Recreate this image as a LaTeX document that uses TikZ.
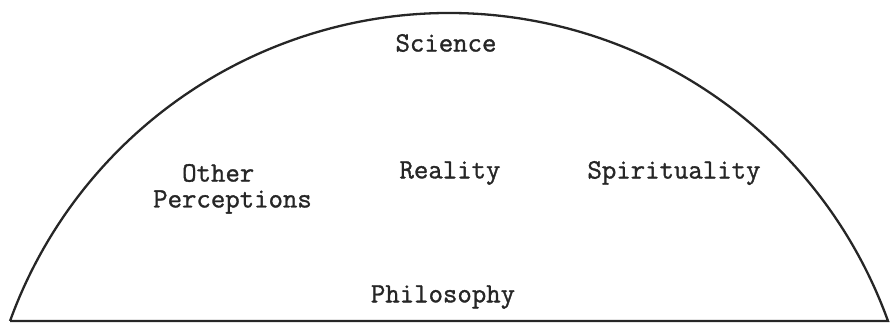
\documentclass[tikz,border=0pt]{standalone}
\usepackage{fontspec}
\newfontfamily\typewr[FakeBold=1.2]{Latin Modern Mono}
\begin{document}
\begin{tikzpicture}[x=1pt,y=1pt,
  lbl/.style={font=\typewr\fontsize{28}{30}\selectfont, inner sep=0pt, text=black!85},
  archline/.style={line width=2.3pt, black!85}]
\useasboundingbox (0,0) rectangle (892,324);
\coordinate (L) at (10,3);
\coordinate (R) at (888,3);
\draw[archline] (L) -- (R) arc[start angle=19.91, end angle=160.09, radius=466.9];
\node[lbl] (science) at (446,281) {Science};
\node[lbl, anchor=west] (other) at (182,151) {Other};
\node[lbl, anchor=west] (perc) at (153,122) {Perceptions};
\node[lbl] (reality) at (450,151) {Reality};
\node[lbl] (spirit) at (674,151) {Spirituality};
\node[lbl] (philo) at (443,27) {Philosophy};
\end{tikzpicture}
\end{document}
